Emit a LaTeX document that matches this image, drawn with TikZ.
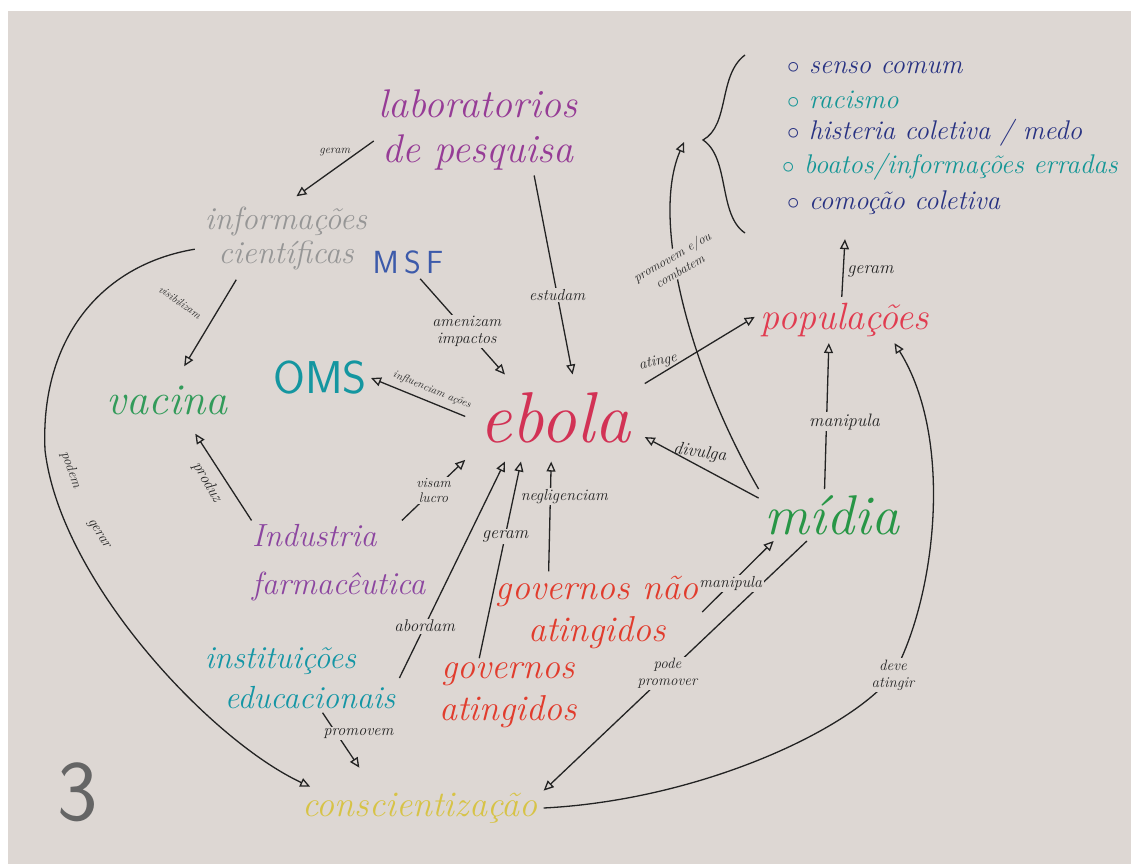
\documentclass[tikz,border=0pt]{standalone}
\usepackage{fontspec}
\usetikzlibrary{arrows.meta}
\definecolor{bg}{RGB}{221,215,211}
\definecolor{ink}{RGB}{35,35,35}
\definecolor{cLab}{RGB}{150,60,150}
\definecolor{cInfo}{RGB}{150,150,150}
\definecolor{cMSF}{RGB}{60,90,170}
\definecolor{cOMS}{RGB}{20,150,160}
\definecolor{cVac}{RGB}{50,155,90}
\definecolor{cEbo}{RGB}{210,50,85}
\definecolor{cPop}{RGB}{225,60,80}
\definecolor{cMid}{RGB}{40,150,70}
\definecolor{cInd}{RGB}{140,70,160}
\definecolor{cGov}{RGB}{225,60,45}
\definecolor{cIns}{RGB}{20,150,165}
\definecolor{cCon}{RGB}{215,195,70}
\definecolor{cNavy}{RGB}{40,50,130}
\definecolor{cTeal}{RGB}{20,150,150}
\newcommand\hwf[2]{\itshape\fontsize{#1}{#2}\selectfont}
\begin{document}
\begin{tikzpicture}[x=1pt,y=-1pt,
  main/.style={inner sep=5pt, align=center},
  lbl/.style={text=ink, inner sep=1.5pt, font=\hwf{16}{17}},
  lblf/.style={lbl, fill=bg},
  item/.style={anchor=west, inner sep=2pt, font=\hwf{27}{29}},
  ln/.style={draw=ink, line width=1.3pt},
  arr/.style={ln, -{Triangle[open,length=10pt,width=9pt]}}]
\useasboundingbox (0,0) rectangle (1131,864);
\fill[white] (0,0) rectangle (1131,864);
\fill[bg] (8,11) rectangle (1131,864);

% main concepts
\node[main, text=cLab, font=\hwf{40}{45}] (labs) at (478,130) {laboratorios\\de pesquisa};
\node[main, inner sep=10pt, text=cInfo, font=\hwf{32}{34}] (info) at (286,238) {informações\\científicas};
\node[main, text=cMSF, font=\sffamily\fontsize{32}{34}\selectfont] (msf) at (408,262) {M\,S\,F};
\node[main, inner sep=4pt, text=cOMS, font=\sffamily\fontsize{46}{48}\selectfont] (oms) at (320,378) {OMS};
\node[main, inner xsep=6pt, inner ysep=19pt, text=cVac, font=\hwf{44}{46}] (vacina) at (167,400) {vacina};
\node[main, inner xsep=14pt, inner ysep=18pt, text=cEbo, font=\hwf{72}{74}] (ebola) at (555,418) {ebola};
\node[main, inner sep=6pt, text=cPop, font=\hwf{38}{40}] (pop) at (845,320) {populações};
\node[main, inner sep=6pt, text=cMid, font=\hwf{56}{58}] (midia) at (832,515) {mídia};
\node[main, inner sep=4pt, align=left, anchor=west, text=cInd, font=\hwf{32}{48}] (ind) at (248,563) {Industria\\farmacêutica};
\node[main, inner sep=4pt, text=cGov, font=\hwf{36}{42}] (gna) at (597,612) {governos não\\atingidos};
\node[main, inner sep=4pt, text=cGov, font=\hwf{36}{42}] (ga) at (508,695) {governos\\atingidos};
\node[main, inner sep=4pt, align=left, text=cIns, font=\hwf{32}{40}] (inst) at (300,678) {instituições\\\hspace*{20pt}educacionais};
\node[main, inner sep=6pt, text=cCon, font=\hwf{36}{38}] (consc) at (420,808) {conscientização};
\node[text=ink!70, inner sep=0pt, font=\sffamily\fontsize{86}{86}\selectfont] (tres) at (78,792) {3};

% list with brace
\node[item, text=cNavy] (i1) at (785,68) {$\circ$ senso comum};
\node[item, text=cTeal] (i2) at (785,100) {$\circ$ racismo};
\node[item, text=cNavy] (i3) at (785,133) {$\circ$ histeria coletiva / medo};
\node[item, text=cTeal] (i4) at (780,167) {$\circ$ boatos/informações erradas};
\node[item, text=cNavy] (i5) at (785,203) {$\circ$ comoção coletiva};
\draw[ln] (745,55) .. controls (718,75) and (730,125) .. (703,140) .. controls (730,158) and (718,215) .. (745,233);
\coordinate (bt) at (684,142);

% connectors
\draw[arr] (labs.186) -- (info.76) node[lbl, pos=.2, left=6pt, font=\hwf{12}{13}] (lgeram1) {geram};
\draw[arr] (labs.-39) -- (ebola.68) node[lblf, pos=.6] (lestudam) {estudam};
\draw[arr] (info.220) -- (vacina.63);
\node[lbl, rotate=-35, font=\hwf{11}{12}] (lvisib) at (180,302) {visibilizam};
\draw[arr] (info.187) .. controls (100,265) and (40,340) .. (45,450) .. controls (60,580) and (210,740) .. (consc.169);
\node[lbl, rotate=-70, font=\hwf{14}{15}] (lpodem) at (71,470) {podem};
\node[lbl, rotate=-58, font=\hwf{15}{16}] (lgerar) at (98,534) {gerar};
\draw[arr] (msf.-54) -- (ebola.139.5) node[lblf, pos=.55, align=center, font=\hwf{16}{17}] (lamen) {amenizam\\impactos};
\draw[arr] (ebola.179) -- (oms.east);
\node[lbl, rotate=-22, font=\hwf{11}{12}] (linfl) at (432,390) {influenciam ações};
\draw[arr] (ebola.21) -- (pop.178);
\node[lbl, rotate=12, font=\hwf{15}{16}] (latinge) at (658,362) {atinge};
\draw[arr] (midia.167) -- (ebola.-12);
\node[lbl, rotate=-8, font=\hwf{18}{19}] (ldivulga) at (700,453) {divulga};
\draw[arr] (midia.north west) .. controls (690,370) and (650,220) .. (bt)
  node[lblf, pos=.6, rotate=30, align=center, font=\hwf{13}{16}] (lpromcomb) {promovem e/ou\\combatem};
\draw[arr] (pop.98) -- ([xshift=60pt,yshift=-22pt]i5.south west)
  node[lbl, pos=.45, right=2pt, font=\hwf{18}{19}] (lgeram2) {geram};
\draw[arr] (midia.106) -- (pop.235) node[lblf, pos=.46, xshift=18pt, font=\hwf{18}{19}] (lmanip1) {manipula};
\draw[arr] (consc.east) .. controls (700,800) and (850,730) .. (893,675)
  node[lblf, align=center, font=\hwf{15}{17}] (ldeve) {deve\\atingir}
  .. controls (935,600) and (955,440) .. (pop.-25);
\draw[arr] (midia.226) -- (consc.8) node[lblf, pos=.53, align=center, font=\hwf{15}{17}] (lpode) {pode\\promover};
\draw[arr] (gna.east) -- (midia.204) node[lblf, pos=.4, font=\hwf{16}{17}] (lmanip2) {manipula};
\draw[arr] (ind.34) -- (ebola.205) node[lblf, pos=.5, align=center, font=\hwf{14}{15}] (lvisam) {visam\\lucro};
\draw[arr] (ind.154) -- (vacina.-50);
\node[lbl, rotate=-60, font=\hwf{16}{17}] (lprod) at (207,482) {produz};
\draw[arr] (inst.east) -- (ebola.221) node[lblf, pos=.24, font=\hwf{17}{18}] (labord) {abordam};
\draw[arr] (ga.128) -- (ebola.232) node[lblf, pos=.62, font=\hwf{18}{19}] (lgeram3) {geram};
\draw[arr] (gna.140) -- (ebola.265) node[lblf, pos=.68, xshift=14pt, font=\hwf{16}{17}] (lneglig) {negligenciam};
\draw[arr] (inst.-57) -- ([xshift=63pt,yshift=19pt]consc.north west)
  node[lblf, pos=.38, xshift=22pt, font=\hwf{16}{17}] (lpromov) {promovem};
\end{tikzpicture}
\end{document}
